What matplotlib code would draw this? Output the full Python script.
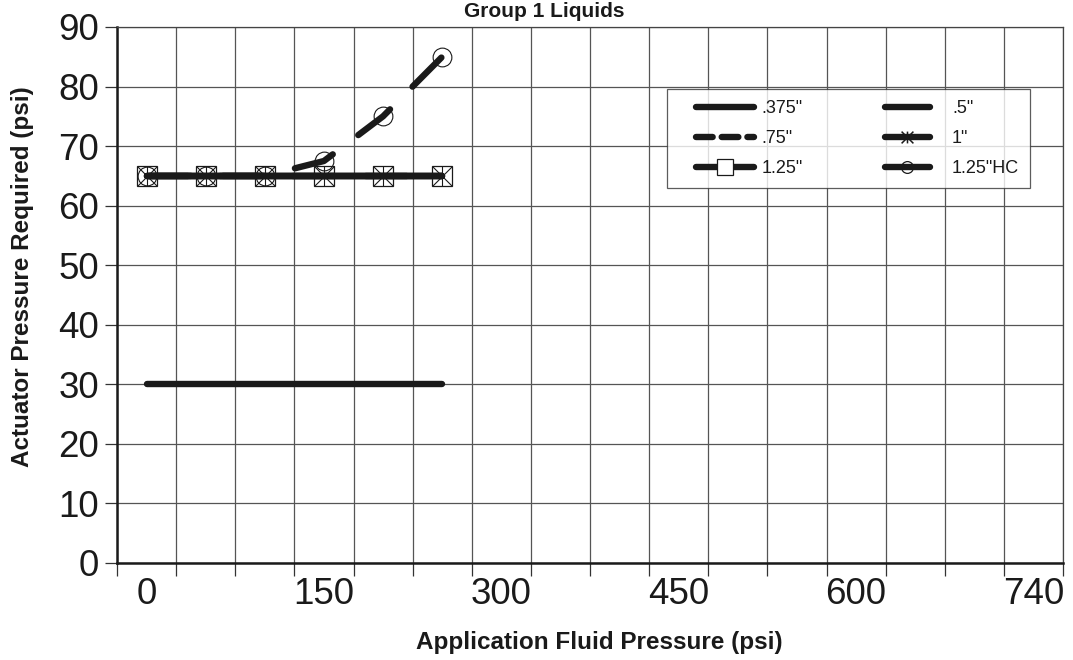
import matplotlib
matplotlib.use("Agg")
import matplotlib.pyplot as plt
from matplotlib.lines import Line2D
from matplotlib.path import Path
from matplotlib.legend_handler import HandlerLine2D
import numpy as np

plt.rcParams['font.family'] = ['Liberation Sans', 'DejaVu Sans']
plt.rcParams['lines.scale_dashes'] = False

# Category axis (Excel-style): 16 categories, labels every third one
x_categories = [0, 50, 100, 150, 200, 250, 300, 350, 400, 450, 500, 550, 600, 650, 700, 740]
x_tick_labels = ["0", "150", "300", "450", "600", "740"]
y_ticks = [0, 10, 20, 30, 40, 50, 60, 70, 80, 90]

# Series (values at the first six categories: 0..250 psi)
series_x = [0, 50, 100, 150, 200, 250]
s_0375 = [30, 30, 30, 30, 30, 30]
s_05 = [65, 65, 65, 65, 65, 65]
s_075 = [65, 65, 65, 65, 65, 65]
s_1 = [65, 65, 65, 65, 65, 65]
s_125 = [65, 65, 65, 65, 65, 65]
s_125hc = [65, 65, 65, 67.5, 75, 85]

INK = '#1a1a1a'

fig = plt.figure(figsize=(10.73, 6.60), dpi=100)
ax = fig.add_axes([117/1073, 97/660, (1063-117)/1073, (563-27)/660])

pos = {v: i for i, v in enumerate(x_categories)}
px = [pos[v] for v in series_x]

LW = 4.6
ast = Path([(-1, -1), (1, 1), (-1, 1), (1, -1), (0, -1), (0, 1)],
           [Path.MOVETO, Path.LINETO, Path.MOVETO, Path.LINETO, Path.MOVETO, Path.LINETO])

ax.plot(px, s_0375, color=INK, lw=LW, solid_capstyle='round', zorder=3)
ax.plot(px, s_05, color=INK, lw=LW, solid_capstyle='round', zorder=3)
ax.plot(px, s_075, color=INK, lw=LW, linestyle=(0, (29.5, 23)), dash_capstyle='round', zorder=3)
ax.plot(px, s_1, color=INK, lw=LW, solid_capstyle='round', marker=ast, ms=14,
        mec=INK, mew=0.8, zorder=3)
ax.plot(px, s_125, color=INK, lw=LW, solid_capstyle='round', marker='s', ms=14.5,
        mfc='none', mec=INK, mew=0.9, zorder=4)
ax.plot(px, s_125hc, color=INK, lw=LW, linestyle=(50, (29.5, 23)), dash_capstyle='round',
        marker='o', ms=13.5, mfc='none', mec=INK, mew=0.8, zorder=4)

ax.set_xlim(-0.5, len(x_categories) - 0.5)
ax.set_ylim(0, 90)

# gridlines at category boundaries, labels centred in categories
bounds = np.arange(-0.5, len(x_categories), 1.0)
ax.set_xticks(bounds, minor=False)
ax.set_xticklabels([])
ax.set_xticks([0, 3, 6, 9, 12, 15], minor=True)
ax.set_xticklabels(x_tick_labels, minor=True)
ax.tick_params(axis='x', which='major', direction='out', length=9, width=0.9, color='#333333')
ax.tick_params(axis='x', which='minor', length=0, labelsize=26.5, pad=10, labelcolor=INK)

ax.set_yticks(y_ticks)
ax.tick_params(axis='y', direction='out', length=9, width=0.9, color='#333333',
               labelsize=26.5, pad=4, labelcolor=INK)

ax.grid(True, which='major', color='#555555', lw=0.9)
ax.set_axisbelow(True)
for side in ['left', 'bottom']:
    ax.spines[side].set_linewidth(1.8)
    ax.spines[side].set_color(INK)
for side in ['top', 'right']:
    ax.spines[side].set_linewidth(0.9)
    ax.spines[side].set_color('#444444')

ax.set_xlabel("Application Fluid Pressure (psi)", fontsize=17.5, fontweight='bold', color=INK)
ax.xaxis.set_label_coords((599-117)/946, (563-631)/536)
ax.set_ylabel("Actuator Pressure Required (psi)", fontsize=17.5, fontweight='bold', color=INK)
ax.yaxis.set_label_coords((34-117)/946, (563-277)/536)

fig.text(544/1073, 1 - 17/660, "Group 1 Liquids", ha='center', va='baseline',
         fontsize=15, fontweight='bold', color=INK)


class PadLine(HandlerLine2D):
    def __init__(self, lpad=0.0, rpad=0.0, **kw):
        super().__init__(**kw)
        self.lpad = lpad
        self.rpad = rpad

    def adjust_drawing_area(self, legend, orig_handle, xdescent, ydescent, width, height, fontsize):
        xdescent = xdescent - self.lpad * fontsize
        width = width - (self.lpad + self.rpad) * fontsize
        return xdescent, ydescent, width, height


# legend (row-wise order as in the reference)
h375 = Line2D([], [], color=INK, lw=LW, solid_capstyle='round')
h5 = Line2D([], [], color=INK, lw=LW, solid_capstyle='round')
h75 = Line2D([], [], color=INK, lw=LW, linestyle=(0, (12, 6.5)), dash_capstyle='round')
h1 = Line2D([], [], color=INK, lw=LW, solid_capstyle='round', marker=ast, ms=8.5, mew=1.1, mec=INK)
h125 = Line2D([], [], color=INK, lw=LW, solid_capstyle='round', marker='s', ms=12,
              mfc='white', mec=INK, mew=0.9)
hhc = Line2D([], [], color=INK, lw=LW, solid_capstyle='round', marker='o', ms=8.5,
             mfc='none', mec=INK, mew=0.9)
handles = [h375, h75, h125, h5, h1, hhc]
labels = ['.375"', '.75"', '1.25"', '.5"', '1"', '1.25"HC']
col1 = PadLine(lpad=1.0, rpad=0.0)
col2 = PadLine(lpad=0.94, rpad=0.78)
hmap = {h375: col1, h75: col1, h125: col1, h5: col2, h1: col2, hhc: col2}
leg = ax.legend(handles, labels, ncol=2, loc='upper left', handler_map=hmap,
                bbox_to_anchor=((667-117)/946, (563-89)/536),
                fontsize=13, frameon=True, fancybox=False, edgecolor='#333333',
                handlelength=4.2, handletextpad=0.45, columnspacing=3.6,
                labelspacing=0.72, borderpad=0.6, borderaxespad=0)
leg.get_frame().set_linewidth(0.9)
for t in leg.get_texts():
    t.set_color(INK)

fig.savefig("out.png", dpi=100)
